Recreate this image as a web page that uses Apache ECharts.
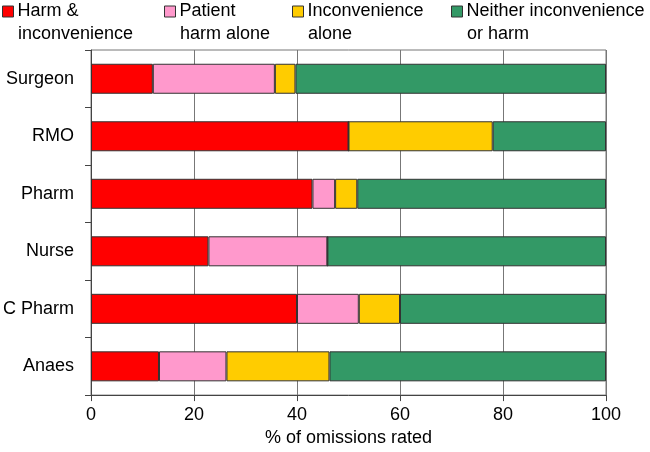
<!DOCTYPE html>
<html>
<head>
<meta charset="utf-8">
<script src="https://cdn.jsdelivr.net/npm/echarts@6/dist/echarts.min.js"></script>
<style>html,body{margin:0;padding:0;background:#fff;}#c{width:650px;height:452px;}</style>
</head>
<body>
<div id="c"></div>
<script>
var categories = ['Surgeon', 'RMO', 'Pharm', 'Nurse', 'C Pharm', 'Anaes'];
var harmAndInconvenience = [12, 50, 43, 22.8, 40, 13.2];
var patientHarmAlone = [23.7, 0, 4.4, 23.1, 12, 13.1];
var inconvenienceAlone = [4, 28, 4.3, 0, 8, 20];
var neither = [60.3, 22, 48.3, 54.1, 40, 53.7];
var xTicks = [0, 20, 40, 60, 80, 100];

var seriesNames = ['Harm & inconvenience', 'Patient harm alone', 'Inconvenience alone', 'Neither inconvenience or harm'];
var legendLine1 = ['Harm &', 'Patient', 'Inconvenience', 'Neither inconvenience'];
var legendLine2 = ['inconvenience', 'harm alone', 'alone', 'or harm'];
var colors = ['#FF0000', '#FF99CC', '#FFCC00', '#339966'];
var values = [harmAndInconvenience, patientHarmAlone, inconvenienceAlone, neither];

var FONT = 'Liberation Sans, Arial, sans-serif';
var legendIconX = [2, 164, 292, 451];
var legendTextX = [18, 180, 308, 467];

var chart = echarts.init(document.getElementById('c'), null, {renderer: 'canvas'});

var legends = seriesNames.map(function (n, i) {
  return {
    left: legendIconX[i], top: 1, padding: 0,
    itemWidth: 11, itemHeight: 11, itemGap: 0,
    icon: 'rect', selectedMode: false,
    data: [{name: n, itemStyle: {borderColor: '#333', borderWidth: 1}}],
    formatter: function () { return legendLine1[i]; },
    textStyle: {fontSize: 18, fontFamily: FONT, color: '#000', lineHeight: 21, padding: [0, 0, 0, -1]}
  };
});

var graphics = legendLine2.map(function (t, i) {
  return {
    type: 'text', left: legendTextX[i], top: 25,
    style: {text: t, fontSize: 18, fontFamily: FONT, fill: '#000'}
  };
});

chart.setOption({
  animation: false,
  color: colors,
  legend: legends,
  graphic: graphics,
  grid: {left: 89, right: 44, top: 50, bottom: 56, show: true, borderColor: '#777', borderWidth: 1, containLabel: false},
  xAxis: {
    type: 'value', min: xTicks[0], max: xTicks[xTicks.length - 1], interval: 20,
    name: '% of omissions rated', nameLocation: 'middle', nameGap: 30,
    nameTextStyle: {fontSize: 18, fontFamily: FONT, color: '#000'},
    axisLine: {show: true, lineStyle: {color: '#444', width: 1}},
    axisTick: {show: true, length: 6, lineStyle: {color: '#444'}},
    axisLabel: {fontSize: 18, fontFamily: FONT, color: '#000', margin: 11},
    splitLine: {show: true, lineStyle: {color: '#777', width: 1}}
  },
  yAxis: {
    type: 'category', data: categories, inverse: true,
    axisLine: {show: true, lineStyle: {color: '#444', width: 1}},
    axisTick: {show: true, length: 6, lineStyle: {color: '#444'}},
    axisLabel: {fontSize: 18, fontFamily: FONT, color: '#000', margin: 17},
    splitLine: {show: false}
  },
  series: seriesNames.map(function (n, i) {
    return {
      name: n, type: 'bar', stack: 'all', data: values[i], barWidth: 30,
      itemStyle: {color: colors[i], borderColor: '#333', borderWidth: 1}
    };
  })
});
</script>
</body>
</html>
